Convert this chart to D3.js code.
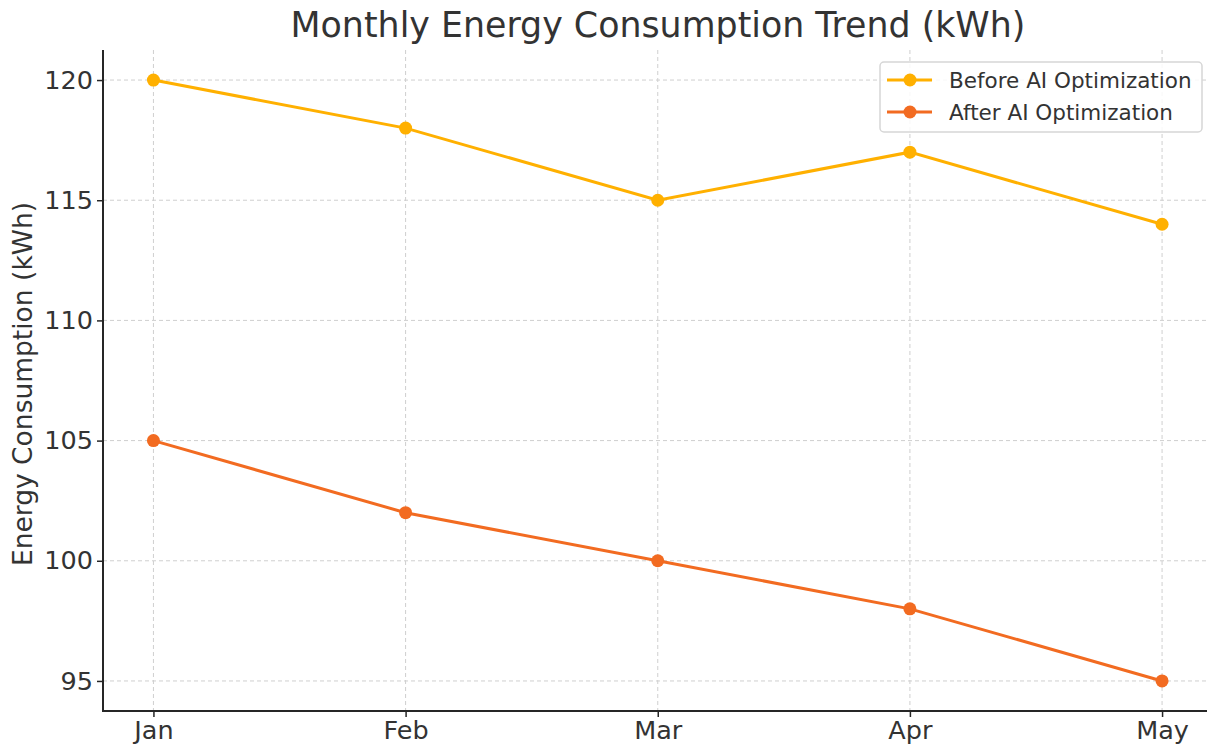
<!DOCTYPE html>
<html><head><meta charset="utf-8">
<script src="https://cdn.jsdelivr.net/npm/d3@7"></script>
<style>body{margin:0;background:#fff}svg{display:block}text{font-family:"DejaVu Sans",sans-serif}</style>
</head><body>
<svg id="c" width="1207" height="744"></svg>
<script>
const months = ["Jan","Feb","Mar","Apr","May"];
const beforeAI = [120,118,115,117,114];
const afterAI = [105,102,100,98,95];
const yTicks = [95,100,105,110,115,120];
const seriesNames = ["Before AI Optimization","After AI Optimization"];
const seriesColors = ["#FFB000","#F26B21"];

const svg = d3.select("#c");
const L=103, R=1212.5, T=50, B=711;
// matplotlib-like 5% margins around index positions
const xi = d3.scaleLinear().domain([-0.2,4.2]).range([L,R]);
const y = d3.scaleLinear().domain([93.75,121.25]).range([B,T]);
const ink="#333";
const fs=25.5;

// grid
svg.append("g").selectAll("line").data(months).join("line")
 .attr("x1",(d,i)=>xi(i)).attr("x2",(d,i)=>xi(i)).attr("y1",T).attr("y2",B)
 .attr("stroke","#cfcfcf").attr("stroke-width",1).attr("stroke-dasharray","4,3");
svg.append("g").selectAll("line").data(yTicks).join("line")
 .attr("x1",L).attr("x2",1207).attr("y1",d=>y(d)).attr("y2",d=>y(d))
 .attr("stroke","#cfcfcf").attr("stroke-width",1).attr("stroke-dasharray","4,3");

// axes
const xAxis = d3.axisBottom(xi).tickValues(d3.range(months.length)).tickFormat(i=>months[i]).tickSize(6).tickPadding(4);
const gx = svg.append("g").attr("transform",`translate(0,${B})`).call(xAxis);
gx.select(".domain").remove();
gx.append("line").attr("x1",L).attr("x2",1207).attr("stroke","#262626").attr("stroke-width",2);
gx.selectAll(".tick line").attr("stroke","#262626").attr("stroke-width",1.5);
gx.selectAll("text").attr("fill",ink).attr("font-size",fs).attr("font-family","DejaVu Sans");

const yAxis = d3.axisLeft(y).tickValues(yTicks).tickSize(6).tickPadding(4);
const gy = svg.append("g").attr("transform",`translate(${L},0)`).call(yAxis);
gy.select(".domain").remove();
gy.append("line").attr("y1",T).attr("y2",B+1).attr("stroke","#262626").attr("stroke-width",2);
gy.selectAll(".tick line").attr("stroke","#262626").attr("stroke-width",1.5);
gy.selectAll("text").attr("fill",ink).attr("font-size",fs).attr("font-family","DejaVu Sans");

// lines
const data=[beforeAI,afterAI];
const line=d3.line().x((d,i)=>xi(i)).y(d=>y(d));
data.forEach((s,k)=>{
  svg.append("path").datum(s).attr("d",line).attr("fill","none").attr("stroke",seriesColors[k]).attr("stroke-width",3);
  svg.append("g").selectAll("circle").data(s).join("circle")
   .attr("cx",(d,i)=>xi(i)).attr("cy",d=>y(d)).attr("r",6.5).attr("fill",seriesColors[k]);
});

// title
svg.append("text").attr("x",658).attr("y",37).attr("text-anchor","middle").attr("font-size",34.8).attr("fill",ink)
 .text("Monthly Energy Consumption Trend (kWh)");
// y label
svg.append("text").attr("transform","translate(32,384) rotate(-90)").attr("text-anchor","middle").attr("font-size",26.5).attr("fill",ink)
 .text("Energy Consumption (kWh)");

// legend
const lg=svg.append("g");
lg.append("rect").attr("x",880).attr("y",62).attr("width",322).attr("height",70).attr("rx",4)
 .attr("fill","#fff").attr("fill-opacity",0.85).attr("stroke","#d6d6d6").attr("stroke-width",1.5);
seriesNames.forEach((n,k)=>{
  const cy=80+k*32;
  lg.append("line").attr("x1",887).attr("x2",932).attr("y1",cy).attr("y2",cy).attr("stroke",seriesColors[k]).attr("stroke-width",3);
  lg.append("circle").attr("cx",910).attr("cy",cy).attr("r",6.5).attr("fill",seriesColors[k]);
  lg.append("text").attr("x",949).attr("y",cy).attr("dy","0.35em").attr("font-size",21.5).attr("fill",ink).text(n);
});
</script>
</body></html>
